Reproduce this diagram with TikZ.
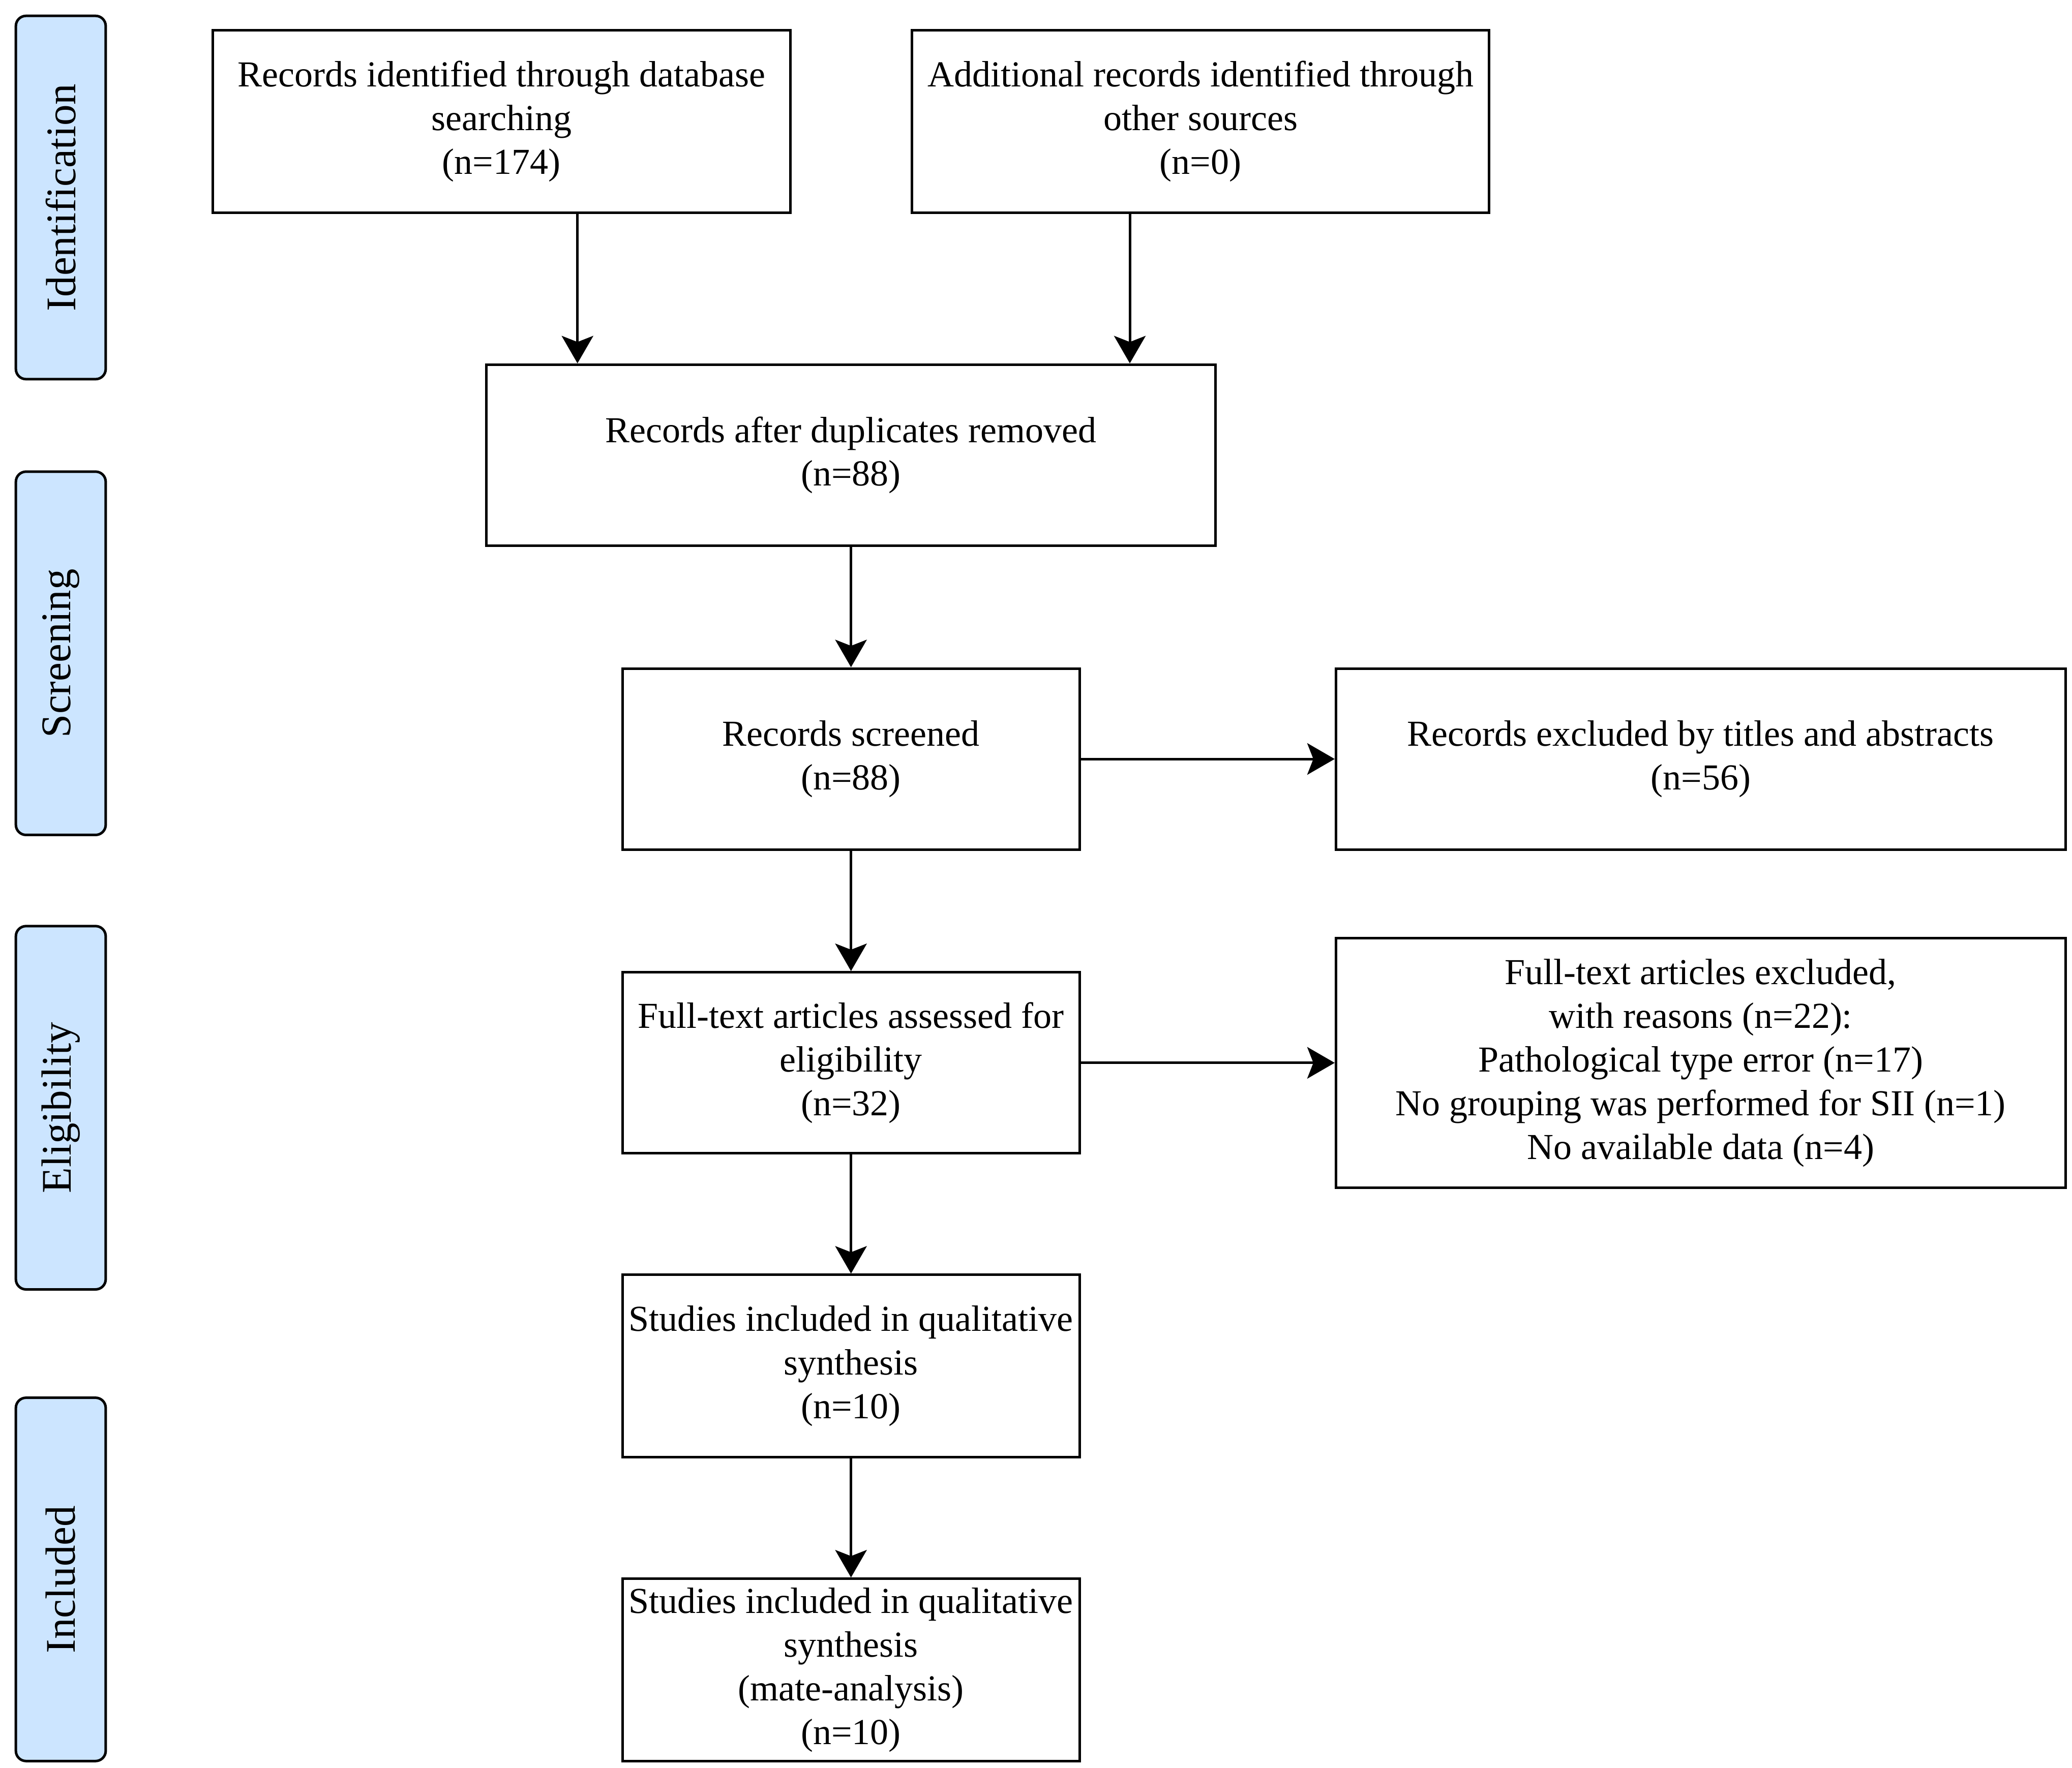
\documentclass[tikz,border=0pt]{standalone}
\usepackage{fontspec}
\setmainfont{Liberation Serif}
\usetikzlibrary{arrows.meta}
\definecolor{sidefill}{RGB}{204,229,255}
\newcommand\unitpx{2.599pt}
\begin{document}
\begin{tikzpicture}[x=2.599pt,y=-2.599pt,
  box/.style={draw=black, line width=5pt, fill=white, inner sep=0pt, align=center,
    font=\fontsize{72}{86}\selectfont},
  side/.style={draw=black, line width=5pt, fill=sidefill, rounded corners=20pt, rotate=90,
    minimum width={275*\unitpx}, minimum height={68*\unitpx}, inner sep=0pt,
    font=\fontsize{83}{90}\selectfont},
  arr/.style={line width=5pt, -{Stealth[length=54pt, width=62pt, inset=12pt]}}]
\useasboundingbox[fill=white] (0,0) rectangle (1568,1338);
% phase labels
\node[side] (sid) at (46,149.5) {Identification};
\node[side] (sscr) at (46,494.5) {Screening};
\node[side] (selig) at (46,838.5) {Eligibility};
\node[side] (sincl) at (46,1195.5) {Included};
% boxes
\node[box, minimum width={437*\unitpx}, minimum height={138*\unitpx}] (A) at (379.5,92)
  {Records identified through database\\searching\\(n=174)};
\node[box, minimum width={437*\unitpx}, minimum height={138*\unitpx}] (B) at (908.5,92)
  {Additional records identified through\\other sources\\(n=0)};
\node[box, minimum width={552*\unitpx}, minimum height={137*\unitpx}] (C) at (644,344.5)
  {Records after duplicates removed\\(n=88)};
\node[box, minimum width={346*\unitpx}, minimum height={137*\unitpx}] (D) at (644,574.5)
  {Records screened\\(n=88)};
\node[box, minimum width={552*\unitpx}, minimum height={137*\unitpx}] (E) at (1287,574.5)
  {Records excluded by titles and abstracts\\(n=56)};
\node[box, minimum width={346*\unitpx}, minimum height={137*\unitpx}] (F) at (644,804.5)
  {Full-text articles assessed for\\eligibility\\(n=32)};
\node[box, minimum width={552*\unitpx}, minimum height={189*\unitpx}] (G) at (1287,804.5)
  {Full-text articles excluded,\\with reasons (n=22):\\Pathological type error (n=17)\\No grouping was performed for SII (n=1)\\No available data (n=4)};
\node[box, minimum width={346*\unitpx}, minimum height={138*\unitpx}] (H) at (644,1034)
  {Studies included in qualitative\\synthesis\\(n=10)};
\node[box, minimum width={346*\unitpx}, minimum height={138*\unitpx}] (I) at (644,1264)
  {Studies included in qualitative\\synthesis\\(mate-analysis)\\(n=10)};
% connectors
\coordinate (ax) at (437,0);
\coordinate (bx) at (855,0);
\draw[arr] (A.south -| ax) -- (C.north -| ax);
\draw[arr] (B.south -| bx) -- (C.north -| bx);
\draw[arr] (C.south) -- (D.north);
\draw[arr] (D.east) -- (E.west);
\draw[arr] (D.south) -- (F.north);
\draw[arr] (F.east) -- (F.east -| G.west);
\draw[arr] (F.south) -- (H.north);
\draw[arr] (H.south) -- (I.north);
\end{tikzpicture}
\end{document}
